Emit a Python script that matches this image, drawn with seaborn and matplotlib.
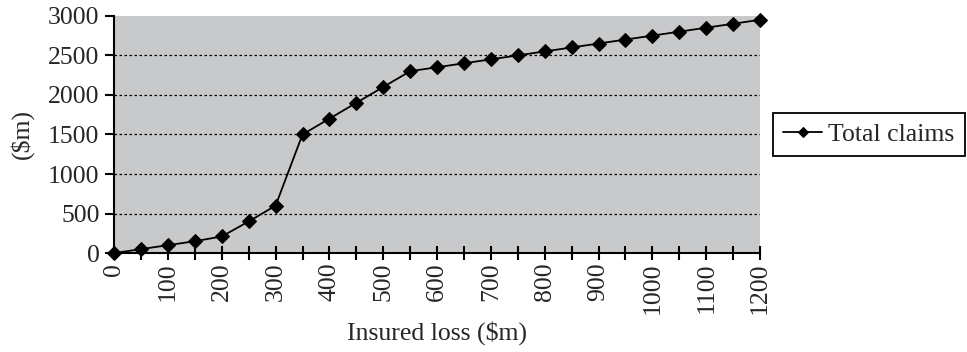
import matplotlib
matplotlib.use("Agg")
import matplotlib.pyplot as plt
import seaborn as sns
import pandas as pd
from matplotlib.ticker import MultipleLocator

insured_loss = [0, 50, 100, 150, 200, 250, 300, 350, 400, 450, 500, 550, 600,
                650, 700, 750, 800, 850, 900, 950, 1000, 1050, 1100, 1150, 1200]
total_claims = [0, 50, 100, 150, 210, 400, 600, 1500, 1700, 1900, 2100, 2300, 2350,
                2400, 2450, 2500, 2550, 2600, 2650, 2700, 2750, 2800, 2850, 2900, 2950]
series_name = "Total claims"
x_label = "Insured loss ($m)"
y_label = "($m)"

df = pd.DataFrame({"x": insured_loss, "y": total_claims, "series": series_name})

sns.set_theme(style="white")
plt.rcParams['font.family'] = ['Liberation Serif', 'DejaVu Serif']

FS = 18.5
fig = plt.figure(figsize=(9.67, 3.52), dpi=100)
ax = fig.add_axes([0.118, 0.281, 0.668, 0.674])
ax.set_facecolor("#c8c9cb")

sns.lineplot(data=df, x="x", y="y", hue="series", palette=["black"], marker="D",
             markersize=7, markeredgecolor="black", linewidth=1.3, ax=ax, clip_on=False,
             zorder=5)

ax.set_xlim(0, 1200)
ax.set_ylim(0, 3000)
ax.xaxis.set_major_locator(MultipleLocator(100))
ax.xaxis.set_minor_locator(MultipleLocator(50))
ax.yaxis.set_major_locator(MultipleLocator(500))

for yv in range(500, 3000, 500):
    ax.axhline(yv, color="black", linestyle=(0, (2, 2)), linewidth=0.9, zorder=1)

for s in ["top", "right"]:
    ax.spines[s].set_visible(False)
for s in ["left", "bottom"]:
    ax.spines[s].set_color("black")
    ax.spines[s].set_linewidth(1.5)

ax.tick_params(axis="x", which="both", direction="inout", length=10, width=1.5,
               color="black", labelsize=FS, labelrotation=90, pad=2, bottom=True)
ax.tick_params(axis="y", which="major", direction="out", length=6.5, width=1.5,
               color="black", labelsize=FS, pad=4, left=True)

ax.set_xlabel(x_label, fontsize=FS, labelpad=5)
ax.set_ylabel(y_label, fontsize=FS, labelpad=10)

leg = ax.legend(loc="center left", bbox_to_anchor=(1.02, 0.5), fontsize=FS,
                frameon=True, fancybox=False, edgecolor="black", framealpha=1,
                handlelength=1.5, handletextpad=0.25, borderpad=0.4, borderaxespad=0)
leg.get_frame().set_linewidth(1.3)
for h in leg.legend_handles:
    h.set_markersize(5.5)

fig.savefig("out.png", dpi=100)
